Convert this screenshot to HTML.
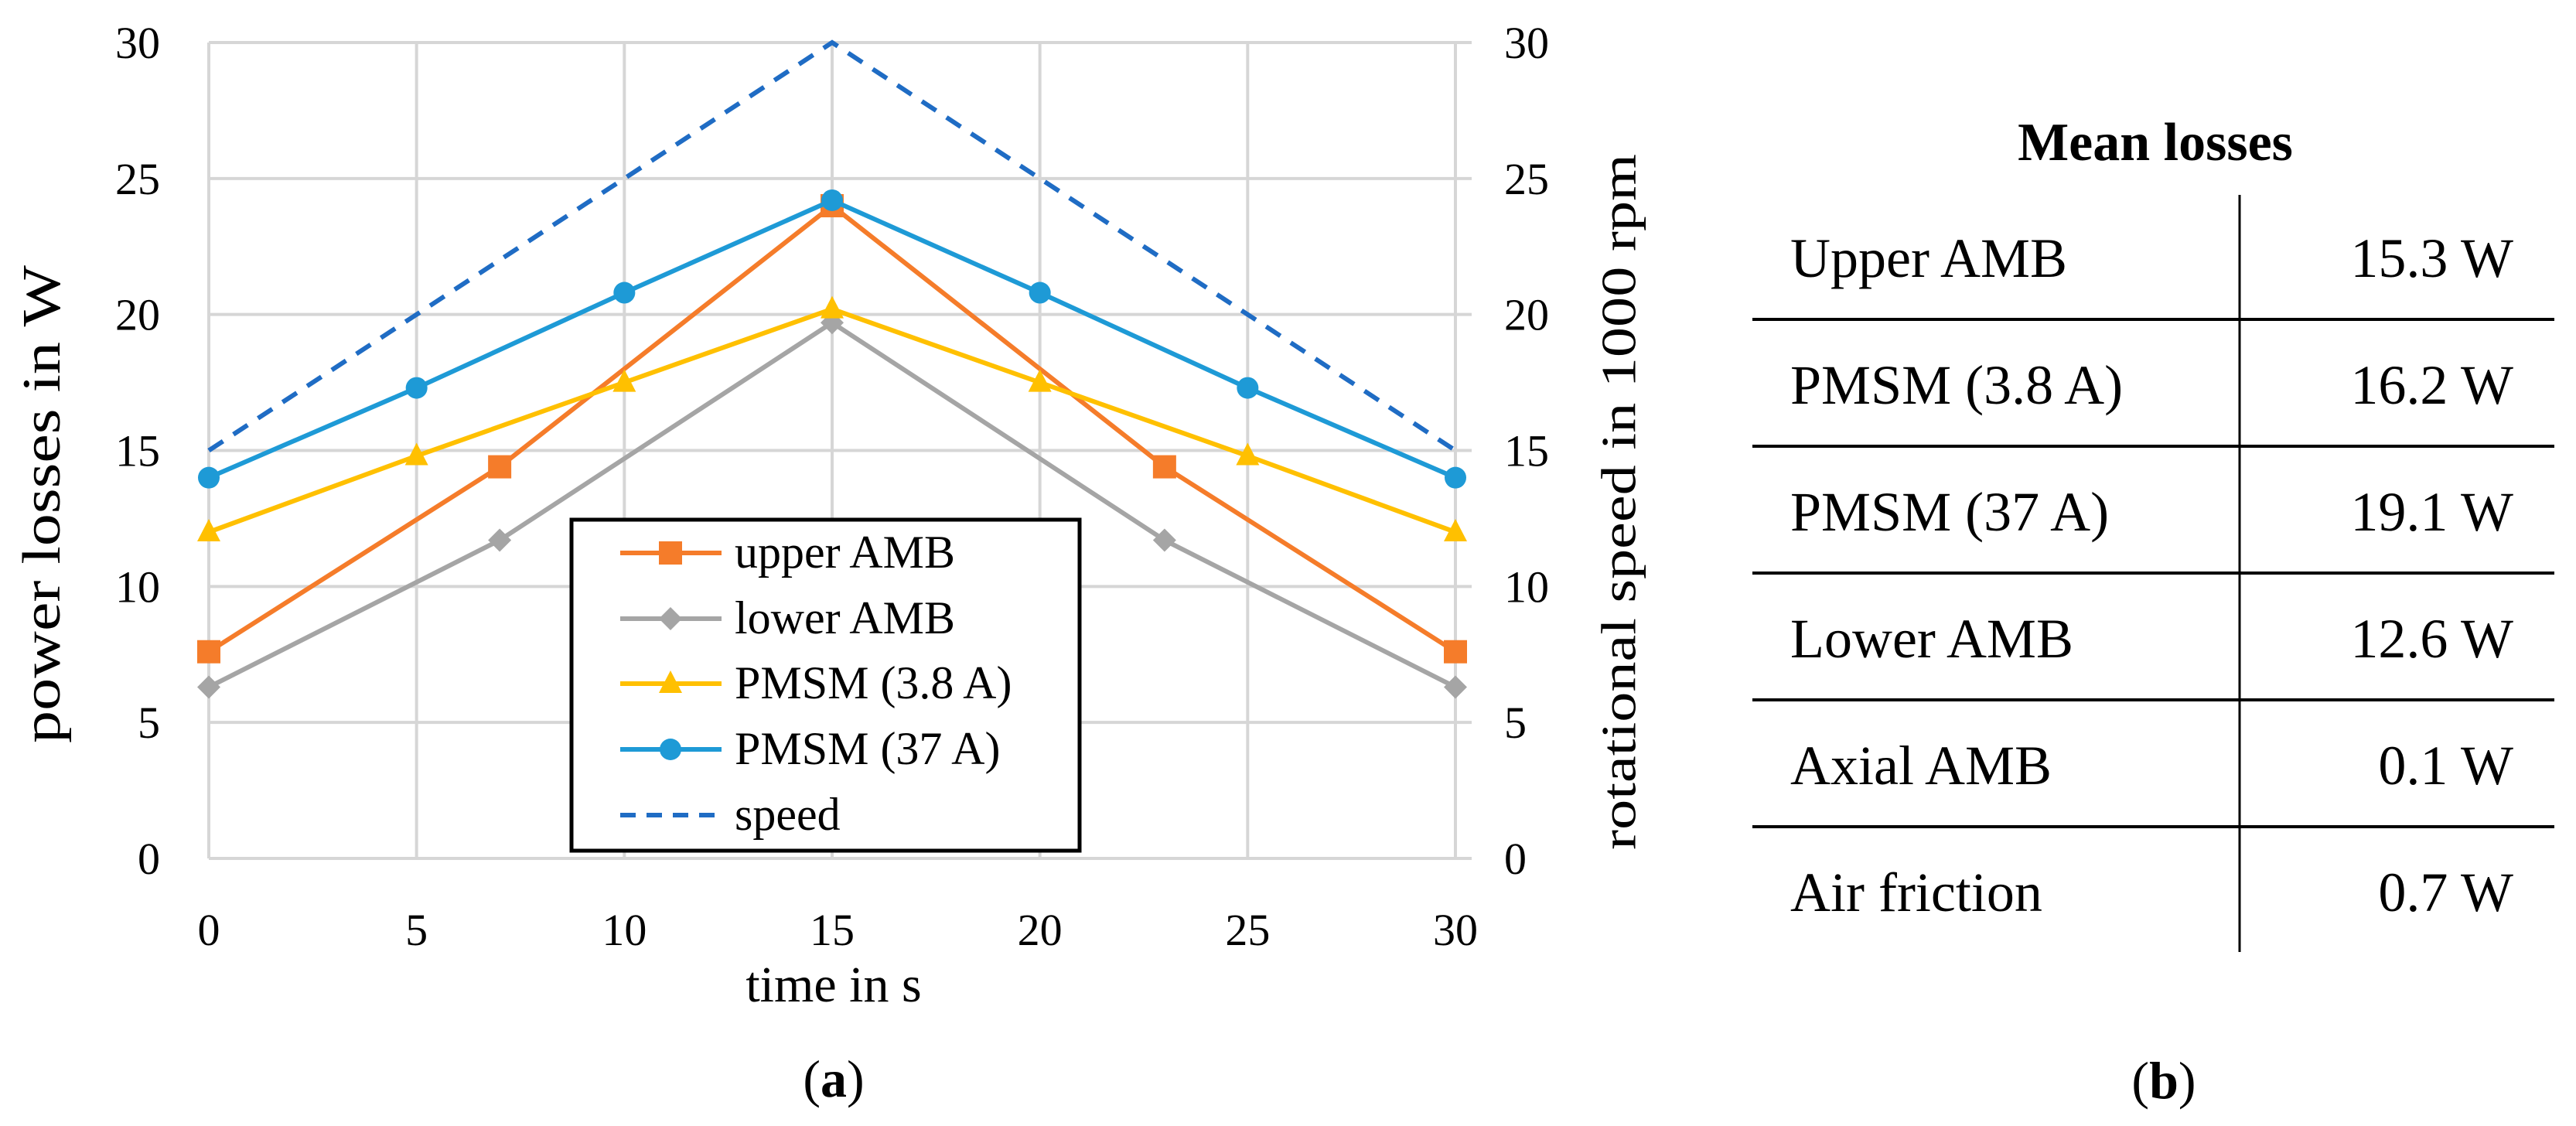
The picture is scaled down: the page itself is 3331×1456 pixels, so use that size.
<!DOCTYPE html>
<html><head><meta charset="utf-8"><style>
html,body{margin:0;padding:0;background:#fff;}
svg{display:block;font-family:"Liberation Serif",serif;}
</style></head><body>
<svg id="chart" width="3331" height="1456" viewBox="0 0 3331 1456" xmlns="http://www.w3.org/2000/svg">
<g id="grid"></g>
<g id="series"></g>
<g id="ticks"></g>
<text x="61" y="652" font-size="70" text-anchor="middle" dominant-baseline="middle" textLength="618" lengthAdjust="spacingAndGlyphs" transform="rotate(-90 61 652)">power losses in W</text>
<text x="2100" y="649" font-size="64" text-anchor="middle" dominant-baseline="middle" textLength="900" lengthAdjust="spacingAndGlyphs" transform="rotate(-90 2100 649)">rotational speed in 1000 rpm</text>
<text x="1078" y="1295" font-size="66" text-anchor="middle">time in s</text>
<text x="1078" y="1418" font-size="68" text-anchor="middle">(<tspan font-weight="bold">a</tspan>)</text>
<g id="legend"></g>
<g id="table">
<text x="2787" y="207" font-size="70" font-weight="bold" text-anchor="middle">Mean losses</text>
<line x1="2896" y1="252" x2="2896" y2="1231" stroke="#000" stroke-width="3"/>
</g>
<text x="2798" y="1420" font-size="68" text-anchor="middle">(<tspan font-weight="bold">b</tspan>)</text>
</svg>
<script>
const xTicks=[0,5,10,15,20,25,30];
const yTicks=[0,5,10,15,20,25,30];
const upperX=[0,7,15,23,30];
const upperY=[7.6,14.4,24.0,14.4,7.6];
const lowerX=[0,7,15,23,30];
const lowerY=[6.3,11.7,19.7,11.7,6.3];
const pmsmLowX=[0,5,10,15,20,25,30];
const pmsmLowY=[12.0,14.8,17.5,20.2,17.5,14.8,12.0];
const pmsmHighX=[0,5,10,15,20,25,30];
const pmsmHighY=[14.0,17.3,20.8,24.2,20.8,17.3,14.0];
const speedX=[0,15,30];
const speedY=[15,30,15];
const legendLabels=["upper AMB","lower AMB","PMSM (3.8 A)","PMSM (37 A)","speed"];
const tableLabels=["Upper AMB","PMSM (3.8 A)","PMSM (37 A)","Lower AMB","Axial AMB","Air friction"];
const tableValues=["15.3 W","16.2 W","19.1 W","12.6 W","0.1 W","0.7 W"];

const NS="http://www.w3.org/2000/svg";
const X0=270,X1=1882,Y0=1110,Y1=55;
const sx=v=>X0+(v-0)/30*(X1-X0);
const sy=v=>Y0-(v-0)/30*(Y0-Y1);
function mk(tag,attrs,parent){const e=document.createElementNS(NS,tag);for(const k in attrs)e.setAttribute(k,attrs[k]);parent.appendChild(e);return e;}
const grid=document.getElementById('grid'),ticks=document.getElementById('ticks'),ser=document.getElementById('series'),leg=document.getElementById('legend'),tbl=document.getElementById('table');
yTicks.forEach(v=>{
  const l=mk('line',{x1:X0,x2:X1+21,y1:sy(v),y2:sy(v),stroke:'#d6d6d6','stroke-width':4},grid);
  
  
  const t=mk('text',{x:207,y:sy(v)+20,'font-size':58,'text-anchor':'end'},ticks);t.textContent=v;
  
  
  const t2=mk('text',{x:1945,y:sy(v)+20,'font-size':58,'text-anchor':'start'},ticks);t2.textContent=v;
  
  
});
xTicks.forEach(v=>{
  const l=mk('line',{x1:sx(v),x2:sx(v),y1:Y1,y2:Y0,stroke:'#d6d6d6','stroke-width':4},grid);
  
  
  const t=mk('text',{x:sx(v),y:1222,'font-size':58,'text-anchor':'middle'},ticks);t.textContent=v;
  
  
});
function marker(type,cx,cy,color,parent){
  let e;
  if(type==='square')e=mk('rect',{x:cx-15,y:cy-15,width:30,height:30,fill:color},parent);
  else if(type==='diamond')e=mk('polygon',{points:`${cx},${cy-15} ${cx+15},${cy} ${cx},${cy+15} ${cx-15},${cy}`,fill:color},parent);
  else if(type==='triangle')e=mk('polygon',{points:`${cx},${cy-17} ${cx+15},${cy+12} ${cx-15},${cy+12}`,fill:color},parent);
  else e=mk('circle',{cx:cx,cy:cy,r:14,fill:color},parent);
  return e;
}
const defs=[
 {xs:upperX,ys:upperY,c:'#f57c2a',m:'square',n:'upper-amb'},
 {xs:lowerX,ys:lowerY,c:'#a5a5a5',m:'diamond',n:'lower-amb'},
 {xs:pmsmLowX,ys:pmsmLowY,c:'#ffc000',m:'triangle',n:'pmsm-3-8a'},
 {xs:pmsmHighX,ys:pmsmHighY,c:'#1e9ad6',m:'circle',n:'pmsm-37a'},
];
const sp=mk('polyline',{points:speedX.map((x,i)=>sx(x)+','+sy(speedY[i])).join(' '),fill:'none',stroke:'#1f6cc4','stroke-width':6,'stroke-dasharray':'22,16'},ser);


defs.forEach(d=>{
  const p=mk('polyline',{points:d.xs.map((x,i)=>sx(x)+','+sy(d.ys[i])).join(' '),fill:'none',stroke:d.c,'stroke-width':6,'stroke-linejoin':'round'},ser);
  
  
  d.xs.forEach((x,i)=>{const m=marker(d.m,sx(x),sy(d.ys[i]),d.c,ser);
    
    });
});
// legend
const box=mk('rect',{x:739,y:672,width:657,height:428,fill:'#fff',stroke:'#000','stroke-width':5},leg);


const legY=[715,800,884,969,1054];
const legC=['#f57c2a','#a5a5a5','#ffc000','#1e9ad6','#1f6cc4'];
const legM=['square','diamond','triangle','circle',null];
legendLabels.forEach((lab,i)=>{
  const y=legY[i];
  const ln=mk('line',{x1:802,x2:933,y1:y,y2:y,stroke:legC[i],'stroke-width':6},leg);
  if(!legM[i])ln.setAttribute('stroke-dasharray','20,14');
  
  
  if(legM[i]){const m=marker(legM[i],867,y,legC[i],leg);
    
    }
  const t=mk('text',{x:950,y:y+19,'font-size':60},leg);t.textContent=lab;
  
  
});
// table
tableLabels.forEach((lab,i)=>{
  const base=358+164*i;
  const a=mk('text',{x:2315,y:base,'font-size':72},tbl);a.textContent=lab;
  
  
  const b=mk('text',{x:3250,y:base,'font-size':72,'text-anchor':'end'},tbl);b.textContent=tableValues[i];
  
  
  if(i<tableLabels.length-1){
    const l=mk('line',{x1:2266,x2:3303,y1:413+164*i,y2:413+164*i,stroke:'#000','stroke-width':4},tbl);
    
    
  }
});
</script>
</body></html>
